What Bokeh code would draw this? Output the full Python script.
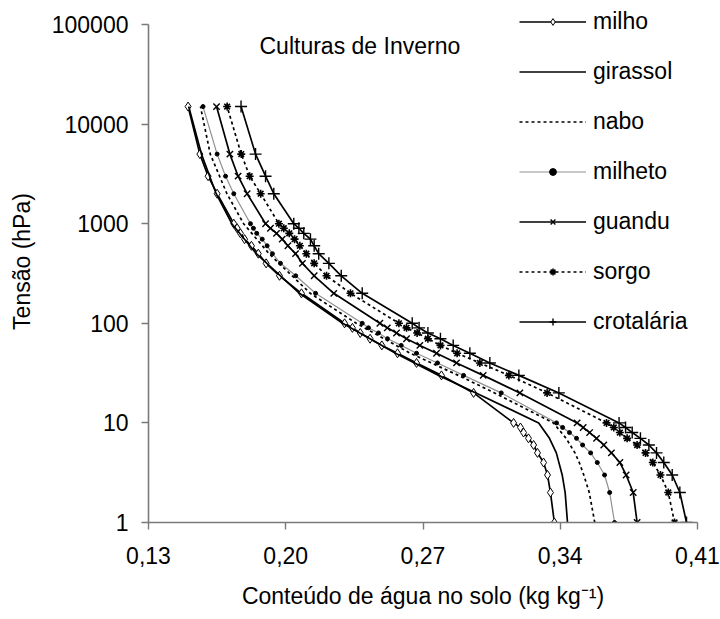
from bokeh.plotting import figure
from bokeh.models import FixedTicker, Legend, LegendItem, Label, CustomJSTickFormatter
from bokeh.embed import file_html
from bokeh.resources import INLINE

# ---------------- data ----------------
tension = [1, 2, 3, 4, 5, 6, 7, 8, 9, 10, 20, 30, 40, 50, 60, 70, 80, 90, 100,
           200, 300, 400, 500, 600, 700, 800, 900, 1000, 2000, 3000, 5000, 15000]

milho = [0.3370, 0.3350, 0.3335, 0.3315, 0.3284, 0.3264, 0.3238, 0.3213, 0.3197, 0.3162,
         0.2958, 0.2794, 0.2667, 0.2570, 0.2490, 0.2430, 0.2380, 0.2340, 0.2300,
         0.2080, 0.1968, 0.1900, 0.1860, 0.1825, 0.1790, 0.1769, 0.1752, 0.1735,
         0.1650, 0.1604, 0.1562, 0.1502]

milheto = [0.3677, 0.3652, 0.3626, 0.3589, 0.3555, 0.3514, 0.3483, 0.3447, 0.3412, 0.3381,
           0.3099, 0.2907, 0.2774, 0.2667, 0.2589, 0.2519, 0.2473, 0.2422, 0.2390,
           0.2152, 0.2051, 0.1973, 0.1932, 0.1905, 0.1880, 0.1852, 0.1835, 0.1820,
           0.1735, 0.1693, 0.1650, 0.1578]

guandu = [0.3792, 0.3772, 0.3736, 0.3704, 0.3661, 0.3622, 0.3585, 0.3550, 0.3517, 0.3486,
          0.3194, 0.3007, 0.2871, 0.2769, 0.2684, 0.2616, 0.2565, 0.2518, 0.2480,
          0.2245, 0.2145, 0.2085, 0.2050, 0.2011, 0.1982, 0.1953, 0.1922, 0.1897,
          0.1803, 0.1757, 0.1715, 0.1647]

sorgo = [0.3983, 0.3951, 0.3911, 0.3872, 0.3835, 0.3792, 0.3741, 0.3704, 0.3673, 0.3636,
         0.3333, 0.3138, 0.2990, 0.2874, 0.2789, 0.2725, 0.2670, 0.2616, 0.2577,
         0.2330, 0.2208, 0.2145, 0.2105, 0.2072, 0.2045, 0.2018, 0.1990, 0.1965,
         0.1872, 0.1816, 0.1773, 0.1701]

crotalaria = [0.4044, 0.4010, 0.3971, 0.3928, 0.3891, 0.3852, 0.3809, 0.3767, 0.3733, 0.3700,
              0.3393, 0.3189, 0.3041, 0.2939, 0.2854, 0.2789, 0.2725, 0.2680, 0.2645,
              0.2390, 0.2283, 0.2220, 0.2168, 0.2145, 0.2126, 0.2092, 0.2067, 0.2041,
              0.1939, 0.1897, 0.1846, 0.1772]

tension_girassol = [1, 2, 3, 5, 7, 10, 20, 30, 50, 100, 200, 500, 1000, 2000, 5000, 15000]
girassol = [0.3437, 0.3425, 0.3410, 0.3380, 0.3345, 0.3290, 0.2970, 0.2780, 0.2560,
            0.2290, 0.2070, 0.1850, 0.1725, 0.1645, 0.1570, 0.1505]

tension_nabo = [1, 2, 3, 4, 5, 7, 10, 20, 30, 50, 100, 200, 500, 1000, 2000, 5000, 15000]
nabo = [0.3576, 0.3548, 0.3520, 0.3497, 0.3475, 0.3430, 0.3365, 0.3065, 0.2880, 0.2635,
        0.2360, 0.2125, 0.1915, 0.1785, 0.1700, 0.1615, 0.1565]

x_ticks = [0.13, 0.20, 0.27, 0.34, 0.41]
y_ticks = [1, 10, 100, 1000, 10000, 100000]

title_text = "Culturas de Inverno"
x_label = "Conteúdo de água no solo (kg kg\u207b\u00b9)"
y_label = "Tensão (hPa)"

FONT = "Liberation Sans"
FS = "23px"

# ---------------- figure ----------------
# frame extends a little above the top tick so that the legend is not clipped
p = figure(width=720, height=619, x_range=(0.13, 0.41), y_range=(1, 10 ** 5.241),
           y_axis_type="log", output_backend="svg", toolbar_location=None,
           min_border_left=148, min_border_right=23, min_border_top=0,
           min_border_bottom=97)
p.outline_line_color = None
p.xgrid.visible = False
p.ygrid.visible = False
p.background_fill_color = "white"
p.border_fill_color = "white"

BL = "black"
LW = 1.7

r_milho_l = p.line(milho, tension, line_color=BL, line_width=LW)
r_milho_m = p.scatter(milho, tension, marker="diamond", size=9,
                      line_color=BL, fill_color="white", line_width=1)

r_gir = p.line(girassol, tension_girassol, line_color=BL, line_width=LW)

r_nabo = p.line(nabo, tension_nabo, line_color=BL, line_width=LW, line_dash="3 3")

r_milheto_l = p.line(milheto, tension, line_color="#909090", line_width=1.2)
r_milheto_m = p.scatter(milheto, tension, marker="circle", size=4,
                        line_color=BL, fill_color=BL)

r_guandu_l = p.line(guandu, tension, line_color=BL, line_width=LW)
r_guandu_m = p.scatter(guandu, tension, marker="x", size=9, line_color=BL, line_width=1.4)

r_sorgo_l = p.line(sorgo, tension, line_color=BL, line_width=LW, line_dash="3 3")
r_sorgo_m = p.scatter(sorgo, tension, marker="asterisk", size=8, line_color=BL, line_width=1.6)

r_crot_l = p.line(crotalaria, tension, line_color=BL, line_width=LW)
r_crot_m = p.scatter(crotalaria, tension, marker="cross", size=12, line_color=BL, line_width=1.4)

# ---------------- axes ----------------
AX = "#7a7a7a"
for ax in (p.xaxis[0], p.yaxis[0]):
    ax.axis_line_color = AX
    ax.axis_line_width = 1.6
    ax.major_tick_line_color = AX
    ax.major_tick_line_width = 1.4
    ax.major_tick_out = 7
    ax.major_tick_in = 0
    ax.minor_tick_line_color = None
    ax.major_label_text_font = FONT
    ax.major_label_text_font_size = FS
    ax.major_label_text_color = "black"
    ax.axis_label_text_font = FONT
    ax.axis_label_text_font_size = FS
    ax.axis_label_text_font_style = "normal"
    ax.axis_label_text_color = "black"

p.xaxis.ticker = FixedTicker(ticks=x_ticks)
p.xaxis.formatter = CustomJSTickFormatter(code="return tick.toFixed(2).replace('.', ',');")
p.xaxis.major_label_standoff = 17
p.xaxis.axis_label = x_label
p.xaxis.axis_label_standoff = 16

p.yaxis.ticker = FixedTicker(ticks=y_ticks)
p.yaxis.formatter = CustomJSTickFormatter(code="return tick.toFixed(0);")
p.yaxis.major_label_standoff = 13
p.yaxis.axis_label = y_label
p.yaxis.axis_label_standoff = 14
p.yaxis.bounds = (y_ticks[0], y_ticks[-1])

# ---------------- title ----------------
p.add_layout(Label(x=111, y=477, x_units="screen", y_units="screen", text=title_text,
                   text_font=FONT, text_font_size=FS, text_color="black",
                   text_baseline="alphabetic", text_align="left"))

# ---------------- legend ----------------
items = [
    LegendItem(label="milho", renderers=[r_milho_l, r_milho_m]),
    LegendItem(label="girassol", renderers=[r_gir]),
    LegendItem(label="nabo", renderers=[r_nabo]),
    LegendItem(label="milheto", renderers=[r_milheto_l, r_milheto_m]),
    LegendItem(label="guandu", renderers=[r_guandu_l, r_guandu_m]),
    LegendItem(label="sorgo", renderers=[r_sorgo_l, r_sorgo_m]),
    LegendItem(label="crotalária", renderers=[r_crot_l, r_crot_m]),
]
legend = Legend(items=items, location=(371, 186), padding=0, margin=0,
                spacing=20, glyph_width=67, glyph_height=17, label_height=30,
                label_standoff=7, label_text_font=FONT, label_text_font_size=FS,
                label_text_color="black", border_line_color=None,
                background_fill_alpha=0)
p.add_layout(legend, "center")

open("out.html", "w").write(file_html(p, INLINE))
